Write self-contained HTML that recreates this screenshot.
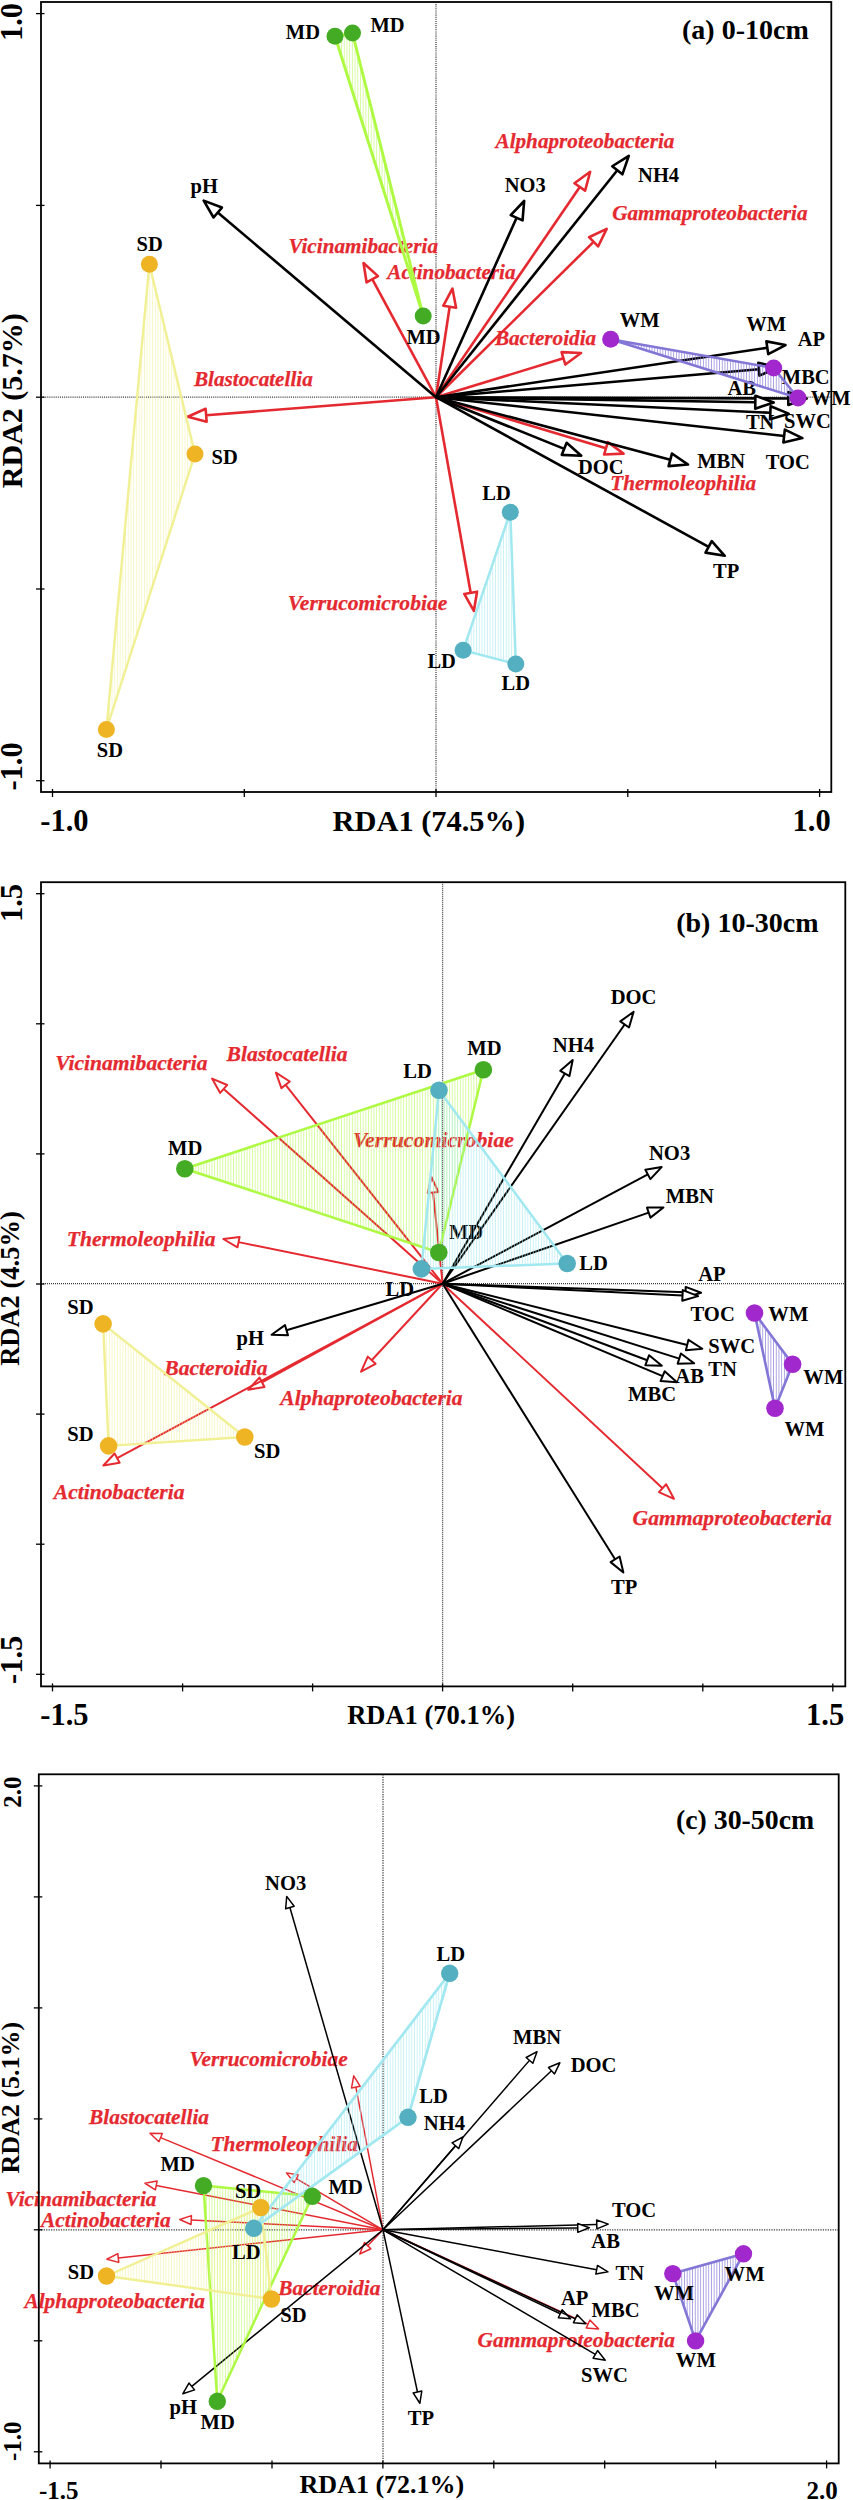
<!DOCTYPE html>
<html><head><meta charset="utf-8"><title>RDA</title>
<style>
html,body{margin:0;padding:0;background:#fff;}
svg{display:block;font-family:"Liberation Serif",serif;font-weight:bold;}
</style></head><body>
<svg width="853" height="2500" viewBox="0 0 853 2500">
<rect width="853" height="2500" fill="#fff"/>
<defs>
<pattern id="hMD" width="2.7" height="8" patternUnits="userSpaceOnUse"><line x1="1.35" y1="0" x2="1.35" y2="8" stroke="#aefa42" stroke-width="0.85" stroke-opacity="0.6"/></pattern>
<pattern id="hSD" width="2.7" height="8" patternUnits="userSpaceOnUse"><line x1="1.35" y1="0" x2="1.35" y2="8" stroke="#f1f094" stroke-width="0.85" stroke-opacity="0.6"/></pattern>
<pattern id="hLD" width="2.7" height="8" patternUnits="userSpaceOnUse"><line x1="1.35" y1="0" x2="1.35" y2="8" stroke="#a2e8f0" stroke-width="0.85" stroke-opacity="0.7"/></pattern>
<pattern id="hWM" width="2.7" height="8" patternUnits="userSpaceOnUse"><line x1="1.35" y1="0" x2="1.35" y2="8" stroke="#8276d6" stroke-width="0.85" stroke-opacity="0.8"/></pattern>
</defs>
<line x1="41" y1="397.2" x2="831.3" y2="397.2" stroke="#3c3c3c" stroke-width="1.25" stroke-dasharray="1.05 1.05"/>
<line x1="436" y1="2" x2="436" y2="792" stroke="#3c3c3c" stroke-width="1.25" stroke-dasharray="1.05 1.05"/>
<line x1="436" y1="397.2" x2="372.26" y2="279.23" stroke="#e42a30" stroke-width="2.6"/>
<polygon points="363.52,263.04 377.97,276.15 366.56,282.31" fill="#fff" stroke="#e42a30" stroke-width="2.6" stroke-linejoin="round"/>
<line x1="436" y1="397.2" x2="449.66" y2="306.78" stroke="#e42a30" stroke-width="2.6"/>
<polygon points="452.41,288.59 456.07,307.75 443.25,305.81" fill="#fff" stroke="#e42a30" stroke-width="2.6" stroke-linejoin="round"/>
<line x1="436" y1="397.2" x2="579.78" y2="186.96" stroke="#e42a30" stroke-width="2.6"/>
<polygon points="590.17,171.77 585.13,190.62 574.43,183.3" fill="#fff" stroke="#e42a30" stroke-width="2.6" stroke-linejoin="round"/>
<line x1="436" y1="397.2" x2="593.57" y2="241.83" stroke="#e42a30" stroke-width="2.6"/>
<polygon points="606.67,228.91 598.12,246.45 589.02,237.21" fill="#fff" stroke="#e42a30" stroke-width="2.6" stroke-linejoin="round"/>
<line x1="436" y1="397.2" x2="563.46" y2="358.34" stroke="#e42a30" stroke-width="2.6"/>
<polygon points="581.06,352.98 565.35,364.55 561.57,352.14" fill="#fff" stroke="#e42a30" stroke-width="2.6" stroke-linejoin="round"/>
<line x1="436" y1="397.2" x2="206.14" y2="415.26" stroke="#e42a30" stroke-width="2.6"/>
<polygon points="187.8,416.7 205.63,408.79 206.65,421.72" fill="#fff" stroke="#e42a30" stroke-width="2.6" stroke-linejoin="round"/>
<line x1="436" y1="397.2" x2="605.94" y2="448.32" stroke="#e42a30" stroke-width="2.6"/>
<polygon points="623.56,453.63 604.07,454.53 607.8,442.12" fill="#fff" stroke="#e42a30" stroke-width="2.6" stroke-linejoin="round"/>
<line x1="436" y1="397.2" x2="470.66" y2="592.8" stroke="#e42a30" stroke-width="2.6"/>
<polygon points="473.87,610.92 464.28,593.93 477.05,591.67" fill="#fff" stroke="#e42a30" stroke-width="2.6" stroke-linejoin="round"/>
<text x="288.5" y="252.8" font-size="21.2" fill="#e42a30" stroke="#e42a30" stroke-width="0.25" font-style="italic">Vicinamibacteria</text>
<text x="193.9" y="386" font-size="21.2" fill="#e42a30" stroke="#e42a30" stroke-width="0.25" font-style="italic">Blastocatellia</text>
<text x="495.5" y="147.9" font-size="21.2" fill="#e42a30" stroke="#e42a30" stroke-width="0.25" font-style="italic">Alphaproteobacteria</text>
<text x="612.2" y="219.8" font-size="21.2" fill="#e42a30" stroke="#e42a30" stroke-width="0.25" font-style="italic">Gammaproteobacteria</text>
<text x="387.3" y="279.2" font-size="21.2" fill="#e42a30" stroke="#e42a30" stroke-width="0.25" font-style="italic">Actinobacteria</text>
<text x="494.9" y="345.2" font-size="21.2" fill="#e42a30" stroke="#e42a30" stroke-width="0.25" font-style="italic">Bacteroidia</text>
<text x="610.2" y="489.9" font-size="21.2" fill="#e42a30" stroke="#e42a30" stroke-width="0.25" font-style="italic">Thermoleophilia</text>
<text x="287.8" y="609.9" font-size="21.2" fill="#e42a30" stroke="#e42a30" stroke-width="0.25" font-style="italic" textLength="159.5" lengthAdjust="spacingAndGlyphs">Verrucomicrobiae</text>
<line x1="436" y1="397.2" x2="217.74" y2="212.52" stroke="#000" stroke-width="2.6"/>
<polygon points="203.69,200.64 221.93,207.58 213.55,217.47" fill="#fff" stroke="#000" stroke-width="2.6" stroke-linejoin="round"/>
<line x1="436" y1="397.2" x2="516.63" y2="217.77" stroke="#000" stroke-width="2.6"/>
<polygon points="524.17,200.99 522.54,220.43 510.71,215.11" fill="#fff" stroke="#000" stroke-width="2.6" stroke-linejoin="round"/>
<line x1="436" y1="397.2" x2="617.3" y2="170.29" stroke="#000" stroke-width="2.6"/>
<polygon points="628.79,155.92 622.37,174.34 612.24,166.24" fill="#fff" stroke="#000" stroke-width="2.6" stroke-linejoin="round"/>
<line x1="436" y1="397.2" x2="767.32" y2="347.8" stroke="#000" stroke-width="2.6"/>
<polygon points="785.51,345.09 768.27,354.22 766.36,341.39" fill="#fff" stroke="#000" stroke-width="2.6" stroke-linejoin="round"/>
<line x1="436" y1="397.2" x2="758.87" y2="369.2" stroke="#000" stroke-width="2.6"/>
<polygon points="777.2,367.61 759.43,375.66 758.31,362.74" fill="#fff" stroke="#000" stroke-width="2.6" stroke-linejoin="round"/>
<line x1="436" y1="397.2" x2="788.3" y2="398.43" stroke="#000" stroke-width="2.6"/>
<polygon points="806.7,398.5 788.28,404.91 788.32,391.95" fill="#fff" stroke="#000" stroke-width="2.6" stroke-linejoin="round"/>
<line x1="436" y1="397.2" x2="755.3" y2="402.19" stroke="#000" stroke-width="2.6"/>
<polygon points="773.7,402.48 755.2,408.68 755.4,395.71" fill="#fff" stroke="#000" stroke-width="2.6" stroke-linejoin="round"/>
<line x1="436" y1="397.2" x2="770.32" y2="412.78" stroke="#000" stroke-width="2.6"/>
<polygon points="788.7,413.64 770.02,419.26 770.62,406.31" fill="#fff" stroke="#000" stroke-width="2.6" stroke-linejoin="round"/>
<line x1="436" y1="397.2" x2="784.12" y2="436.02" stroke="#000" stroke-width="2.6"/>
<polygon points="802.41,438.06 783.4,442.46 784.84,429.57" fill="#fff" stroke="#000" stroke-width="2.6" stroke-linejoin="round"/>
<line x1="436" y1="397.2" x2="670.27" y2="459.81" stroke="#000" stroke-width="2.6"/>
<polygon points="688.04,464.56 668.59,466.08 671.94,453.55" fill="#fff" stroke="#000" stroke-width="2.6" stroke-linejoin="round"/>
<line x1="436" y1="397.2" x2="564.23" y2="448.84" stroke="#000" stroke-width="2.6"/>
<polygon points="581.29,455.71 561.8,454.85 566.65,442.83" fill="#fff" stroke="#000" stroke-width="2.6" stroke-linejoin="round"/>
<line x1="436" y1="397.2" x2="708.63" y2="546.92" stroke="#000" stroke-width="2.6"/>
<polygon points="724.76,555.77 705.51,552.6 711.75,541.23" fill="#fff" stroke="#000" stroke-width="2.6" stroke-linejoin="round"/>
<text x="190.5" y="192.9" font-size="20.5">pH</text>
<text x="504.8" y="192.3" font-size="20.5">NO3</text>
<text x="638.1" y="181.7" font-size="20.5">NH4</text>
<text x="797.7" y="346.2" font-size="20.5">AP</text>
<text x="781.8" y="383.7" font-size="20.5">MBC</text>
<text x="727.5" y="394.5" font-size="20.5">AB</text>
<text x="745.9" y="429.2" font-size="20.5">TN</text>
<text x="784" y="427.5" font-size="20.5">SWC</text>
<text x="765.8" y="469.3" font-size="20.5">TOC</text>
<text x="697.2" y="467.6" font-size="20.5">MBN</text>
<text x="578" y="473.8" font-size="20.5">DOC</text>
<text x="713.1" y="577.7" font-size="20.5">TP</text>
<polygon points="335,36.3 352.5,33 423.2,315.9" fill="url(#hMD)" stroke="#aefa42" stroke-width="2.9" stroke-linejoin="round"/>
<text x="285.8" y="38.5" font-size="20.5">MD</text>
<text x="370.5" y="31.5" font-size="20.5">MD</text>
<text x="406.5" y="343.6" font-size="20.5">MD</text>
<polygon points="149.4,264.2 195,454 106.4,729.5" fill="url(#hSD)" stroke="#f1f094" stroke-width="2.4" stroke-linejoin="round"/>
<text x="136.6" y="250.8" font-size="20.5">SD</text>
<text x="211.5" y="464.1" font-size="20.5">SD</text>
<text x="96.8" y="757.2" font-size="20.5">SD</text>
<polygon points="510.3,512.2 463.1,650.3 515.8,664" fill="url(#hLD)" stroke="#a2e8f0" stroke-width="2.5" stroke-linejoin="round"/>
<text x="482.3" y="500.3" font-size="20.5">LD</text>
<text x="427.4" y="668" font-size="20.5">LD</text>
<text x="501.5" y="689.9" font-size="20.5">LD</text>
<polygon points="610.7,339.3 773.7,368 798,398" fill="url(#hWM)" stroke="#8276d6" stroke-width="2.5" stroke-linejoin="round"/>
<text x="619.8" y="327.1" font-size="20.5">WM</text>
<text x="746.3" y="331.2" font-size="20.5">WM</text>
<text x="810.8" y="405" font-size="20.5">WM</text>
<circle cx="335" cy="36.3" r="8.5" fill="#44ac24"/>
<circle cx="352.5" cy="33" r="8.5" fill="#44ac24"/>
<circle cx="423.2" cy="315.9" r="8.5" fill="#44ac24"/>
<circle cx="149.4" cy="264.2" r="8.5" fill="#eeb424"/>
<circle cx="195" cy="454" r="8.5" fill="#eeb424"/>
<circle cx="106.4" cy="729.5" r="8.5" fill="#eeb424"/>
<circle cx="510.3" cy="512.2" r="8.5" fill="#54b0c0"/>
<circle cx="463.1" cy="650.3" r="8.5" fill="#54b0c0"/>
<circle cx="515.8" cy="664" r="8.5" fill="#54b0c0"/>
<circle cx="610.7" cy="339.3" r="8.5" fill="#a028cc"/>
<circle cx="773.7" cy="368" r="8.5" fill="#a028cc"/>
<circle cx="798" cy="398" r="8.5" fill="#a028cc"/>
<rect x="41" y="2" width="790.3" height="790" fill="none" stroke="#000" stroke-width="1.8"/>
<line x1="52.5" y1="789" x2="52.5" y2="797" stroke="#000" stroke-width="1.3"/>
<line x1="244.3" y1="789" x2="244.3" y2="797" stroke="#000" stroke-width="1.3"/>
<line x1="436" y1="789" x2="436" y2="797" stroke="#000" stroke-width="1.3"/>
<line x1="627.8" y1="789" x2="627.8" y2="797" stroke="#000" stroke-width="1.3"/>
<line x1="819.6" y1="789" x2="819.6" y2="797" stroke="#000" stroke-width="1.3"/>
<line x1="36" y1="13.6" x2="44.5" y2="13.6" stroke="#000" stroke-width="1.3"/>
<line x1="36" y1="205.4" x2="44.5" y2="205.4" stroke="#000" stroke-width="1.3"/>
<line x1="36" y1="397.2" x2="44.5" y2="397.2" stroke="#000" stroke-width="1.3"/>
<line x1="36" y1="589" x2="44.5" y2="589" stroke="#000" stroke-width="1.3"/>
<line x1="36" y1="780.7" x2="44.5" y2="780.7" stroke="#000" stroke-width="1.3"/>
<text x="682" y="38.7" font-size="28">(a) 0-10cm</text>
<text x="332.6" y="831" font-size="30.4">RDA1 (74.5%)</text>
<text x="40.3" y="831" font-size="30.5">-1.0</text>
<text x="792.6" y="831" font-size="30.5">1.0</text>
<text x="22.5" y="488.2" font-size="30" transform="rotate(-90 22.5 488.2)">RDA2 (5.7%)</text>
<text x="22" y="41" font-size="30.5" transform="rotate(-90 22 41)">1.0</text>
<text x="22" y="790.6" font-size="30.5" transform="rotate(-90 22 790.6)">-1.0</text>
<line x1="41" y1="1283.7" x2="845.3" y2="1283.7" stroke="#3c3c3c" stroke-width="1.25" stroke-dasharray="1 1"/>
<line x1="442.6" y1="882.2" x2="442.6" y2="1686.4" stroke="#3c3c3c" stroke-width="1.25" stroke-dasharray="1 1"/>
<line x1="442.6" y1="1283.7" x2="223.7" y2="1088.93" stroke="#e42a30" stroke-width="2.0"/>
<polygon points="212.05,1078.56 227.24,1084.96 220.17,1092.91" fill="#fff" stroke="#e42a30" stroke-width="2.0" stroke-linejoin="round"/>
<line x1="442.6" y1="1283.7" x2="285.59" y2="1084.83" stroke="#e42a30" stroke-width="2.0"/>
<polygon points="275.92,1072.58 289.76,1081.53 281.41,1088.12" fill="#fff" stroke="#e42a30" stroke-width="2.0" stroke-linejoin="round"/>
<line x1="442.6" y1="1283.7" x2="433.03" y2="1192.51" stroke="#e42a30" stroke-width="2.0"/>
<polygon points="431.4,1176.99 438.32,1191.95 427.74,1193.06" fill="#fff" stroke="#e42a30" stroke-width="2.0" stroke-linejoin="round"/>
<line x1="442.6" y1="1283.7" x2="238.57" y2="1242.12" stroke="#e42a30" stroke-width="2.0"/>
<polygon points="223.28,1239 239.63,1236.9 237.5,1247.33" fill="#fff" stroke="#e42a30" stroke-width="2.0" stroke-linejoin="round"/>
<line x1="442.6" y1="1283.7" x2="261.97" y2="1382.25" stroke="#e42a30" stroke-width="2.0"/>
<polygon points="248.28,1389.72 259.43,1377.58 264.52,1386.92" fill="#fff" stroke="#e42a30" stroke-width="2.0" stroke-linejoin="round"/>
<line x1="442.6" y1="1283.7" x2="117.13" y2="1458.16" stroke="#e42a30" stroke-width="2.0"/>
<polygon points="103.38,1465.53 114.62,1453.47 119.64,1462.84" fill="#fff" stroke="#e42a30" stroke-width="2.0" stroke-linejoin="round"/>
<line x1="442.6" y1="1283.7" x2="371.68" y2="1360.22" stroke="#e42a30" stroke-width="2.0"/>
<polygon points="361.08,1371.67 367.78,1356.61 375.58,1363.84" fill="#fff" stroke="#e42a30" stroke-width="2.0" stroke-linejoin="round"/>
<line x1="442.6" y1="1283.7" x2="662.54" y2="1488.2" stroke="#e42a30" stroke-width="2.0"/>
<polygon points="673.97,1498.82 658.92,1492.09 666.16,1484.3" fill="#fff" stroke="#e42a30" stroke-width="2.0" stroke-linejoin="round"/>
<text x="55.2" y="1069.7" font-size="21.6" fill="#e42a30" stroke="#e42a30" stroke-width="0.25" font-style="italic">Vicinamibacteria</text>
<text x="226.5" y="1061.1" font-size="21.6" fill="#e42a30" stroke="#e42a30" stroke-width="0.25" font-style="italic">Blastocatellia</text>
<text x="353" y="1146.5" font-size="21.6" fill="#e42a30" stroke="#e42a30" stroke-width="0.25" font-style="italic" textLength="161" lengthAdjust="spacingAndGlyphs">Verrucomicrobiae</text>
<text x="66.8" y="1245.5" font-size="21.6" fill="#e42a30" stroke="#e42a30" stroke-width="0.25" font-style="italic">Thermoleophilia</text>
<text x="164.3" y="1375.1" font-size="21.6" fill="#e42a30" stroke="#e42a30" stroke-width="0.25" font-style="italic">Bacteroidia</text>
<text x="53.8" y="1498.6" font-size="21.6" fill="#e42a30" stroke="#e42a30" stroke-width="0.25" font-style="italic">Actinobacteria</text>
<text x="280.3" y="1405" font-size="21.6" fill="#e42a30" stroke="#e42a30" stroke-width="0.25" font-style="italic">Alphaproteobacteria</text>
<text x="632.6" y="1524.6" font-size="21.6" fill="#e42a30" stroke="#e42a30" stroke-width="0.25" font-style="italic">Gammaproteobacteria</text>
<line x1="442.6" y1="1283.7" x2="624.66" y2="1024.48" stroke="#000" stroke-width="2.0"/>
<polygon points="633.63,1011.72 629.01,1027.54 620.31,1021.43" fill="#fff" stroke="#000" stroke-width="2.0" stroke-linejoin="round"/>
<line x1="442.6" y1="1283.7" x2="564.86" y2="1073.45" stroke="#000" stroke-width="2.0"/>
<polygon points="572.7,1059.96 569.45,1076.12 560.26,1070.78" fill="#fff" stroke="#000" stroke-width="2.0" stroke-linejoin="round"/>
<line x1="442.6" y1="1283.7" x2="647.85" y2="1174.4" stroke="#000" stroke-width="2.0"/>
<polygon points="661.62,1167.07 650.35,1179.1 645.35,1169.71" fill="#fff" stroke="#000" stroke-width="2.0" stroke-linejoin="round"/>
<line x1="442.6" y1="1283.7" x2="648.71" y2="1212.61" stroke="#000" stroke-width="2.0"/>
<polygon points="663.45,1207.53 650.44,1217.64 646.97,1207.58" fill="#fff" stroke="#000" stroke-width="2.0" stroke-linejoin="round"/>
<line x1="442.6" y1="1283.7" x2="685.51" y2="1292.22" stroke="#000" stroke-width="2.0"/>
<polygon points="701.1,1292.76 685.32,1297.53 685.7,1286.9" fill="#fff" stroke="#000" stroke-width="2.0" stroke-linejoin="round"/>
<line x1="442.6" y1="1283.7" x2="682.52" y2="1295.39" stroke="#000" stroke-width="2.0"/>
<polygon points="698.1,1296.15 682.26,1300.7 682.78,1290.08" fill="#fff" stroke="#000" stroke-width="2.0" stroke-linejoin="round"/>
<line x1="442.6" y1="1283.7" x2="687.2" y2="1344.97" stroke="#000" stroke-width="2.0"/>
<polygon points="702.33,1348.76 685.91,1350.13 688.49,1339.81" fill="#fff" stroke="#000" stroke-width="2.0" stroke-linejoin="round"/>
<line x1="442.6" y1="1283.7" x2="679.27" y2="1358.59" stroke="#000" stroke-width="2.0"/>
<polygon points="694.15,1363.3 677.67,1363.66 680.88,1353.52" fill="#fff" stroke="#000" stroke-width="2.0" stroke-linejoin="round"/>
<line x1="442.6" y1="1283.7" x2="647.25" y2="1360.19" stroke="#000" stroke-width="2.0"/>
<polygon points="661.86,1365.65 645.39,1365.17 649.11,1355.21" fill="#fff" stroke="#000" stroke-width="2.0" stroke-linejoin="round"/>
<line x1="442.6" y1="1283.7" x2="662.6" y2="1376.17" stroke="#000" stroke-width="2.0"/>
<polygon points="676.98,1382.21 660.54,1381.07 664.66,1371.27" fill="#fff" stroke="#000" stroke-width="2.0" stroke-linejoin="round"/>
<line x1="442.6" y1="1283.7" x2="615.09" y2="1559.33" stroke="#000" stroke-width="2.0"/>
<polygon points="623.37,1572.55 610.59,1562.15 619.6,1556.51" fill="#fff" stroke="#000" stroke-width="2.0" stroke-linejoin="round"/>
<line x1="442.6" y1="1283.7" x2="286.51" y2="1330.26" stroke="#000" stroke-width="2.0"/>
<polygon points="271.56,1334.71 284.99,1325.16 288.03,1335.35" fill="#fff" stroke="#000" stroke-width="2.0" stroke-linejoin="round"/>
<text x="610.7" y="1003.6" font-size="20.6">DOC</text>
<text x="552.8" y="1052" font-size="20.6">NH4</text>
<text x="649" y="1159.6" font-size="20.6">NO3</text>
<text x="665.8" y="1203" font-size="20.6">MBN</text>
<text x="698.2" y="1280.9" font-size="20.6">AP</text>
<text x="690.5" y="1321.2" font-size="20.6">TOC</text>
<text x="708.2" y="1353.2" font-size="20.6">SWC</text>
<text x="708.2" y="1376.4" font-size="20.6">TN</text>
<text x="675.3" y="1382.9" font-size="20.6">AB</text>
<text x="628" y="1401.3" font-size="20.6">MBC</text>
<text x="611.1" y="1594.1" font-size="20.6">TP</text>
<text x="236.6" y="1344.5" font-size="20.6">pH</text>
<polygon points="103.1,1323.9 108.6,1445.9 244.8,1437" fill="url(#hSD)" stroke="#f1f094" stroke-width="2.4" stroke-linejoin="round"/>
<text x="67.2" y="1313.6" font-size="20.6">SD</text>
<text x="67.2" y="1440.7" font-size="20.6">SD</text>
<text x="254" y="1458" font-size="20.6">SD</text>
<polygon points="184.8,1168.7 483.4,1069.7 438.8,1252.5" fill="url(#hMD)" stroke="#aefa42" stroke-width="2.5" stroke-linejoin="round"/>
<text x="168" y="1154.7" font-size="20.6">MD</text>
<text x="467.3" y="1055" font-size="20.6">MD</text>
<text x="448.9" y="1238.5" font-size="20.6">MD</text>
<polygon points="439,1090.2 421.4,1268.9 567.2,1263.5" fill="url(#hLD)" stroke="#a2e8f0" stroke-width="2.5" stroke-linejoin="round"/>
<text x="403.2" y="1077.9" font-size="20.6">LD</text>
<text x="385.4" y="1296.2" font-size="20.6">LD</text>
<text x="579.3" y="1270.4" font-size="20.6">LD</text>
<polygon points="754.5,1313 792.6,1364.3 775,1408.2" fill="url(#hWM)" stroke="#8276d6" stroke-width="2.6" stroke-linejoin="round"/>
<text x="768.3" y="1321.2" font-size="20.6">WM</text>
<text x="803.3" y="1383.8" font-size="20.6">WM</text>
<text x="784.4" y="1435.6" font-size="20.6">WM</text>
<circle cx="103.1" cy="1323.9" r="8.8" fill="#eeb424"/>
<circle cx="108.6" cy="1445.9" r="8.8" fill="#eeb424"/>
<circle cx="244.8" cy="1437" r="8.8" fill="#eeb424"/>
<circle cx="184.8" cy="1168.7" r="8.8" fill="#44ac24"/>
<circle cx="483.4" cy="1069.7" r="8.8" fill="#44ac24"/>
<circle cx="438.8" cy="1252.5" r="8.8" fill="#44ac24"/>
<circle cx="439" cy="1090.2" r="8.8" fill="#54b0c0"/>
<circle cx="421.4" cy="1268.9" r="8.8" fill="#54b0c0"/>
<circle cx="567.2" cy="1263.5" r="8.8" fill="#54b0c0"/>
<circle cx="754.5" cy="1313" r="8.8" fill="#a028cc"/>
<circle cx="792.6" cy="1364.3" r="8.8" fill="#a028cc"/>
<circle cx="775" cy="1408.2" r="8.8" fill="#a028cc"/>
<rect x="41" y="882.2" width="804.3" height="804.2" fill="none" stroke="#000" stroke-width="1.8"/>
<line x1="52.5" y1="1683.4" x2="52.5" y2="1691.4" stroke="#000" stroke-width="1.3"/>
<line x1="182.6" y1="1683.4" x2="182.6" y2="1691.4" stroke="#000" stroke-width="1.3"/>
<line x1="312.6" y1="1683.4" x2="312.6" y2="1691.4" stroke="#000" stroke-width="1.3"/>
<line x1="442.6" y1="1683.4" x2="442.6" y2="1691.4" stroke="#000" stroke-width="1.3"/>
<line x1="572.7" y1="1683.4" x2="572.7" y2="1691.4" stroke="#000" stroke-width="1.3"/>
<line x1="702.8" y1="1683.4" x2="702.8" y2="1691.4" stroke="#000" stroke-width="1.3"/>
<line x1="832.8" y1="1683.4" x2="832.8" y2="1691.4" stroke="#000" stroke-width="1.3"/>
<line x1="36" y1="893.7" x2="44.5" y2="893.7" stroke="#000" stroke-width="1.3"/>
<line x1="36" y1="1023.8" x2="44.5" y2="1023.8" stroke="#000" stroke-width="1.3"/>
<line x1="36" y1="1153.9" x2="44.5" y2="1153.9" stroke="#000" stroke-width="1.3"/>
<line x1="36" y1="1284" x2="44.5" y2="1284" stroke="#000" stroke-width="1.3"/>
<line x1="36" y1="1414.1" x2="44.5" y2="1414.1" stroke="#000" stroke-width="1.3"/>
<line x1="36" y1="1544.2" x2="44.5" y2="1544.2" stroke="#000" stroke-width="1.3"/>
<line x1="36" y1="1674.3" x2="44.5" y2="1674.3" stroke="#000" stroke-width="1.3"/>
<text x="676.2" y="931.7" font-size="28">(b) 10-30cm</text>
<text x="347.2" y="1724" font-size="26.5">RDA1 (70.1%)</text>
<text x="40.3" y="1725.4" font-size="30.5">-1.5</text>
<text x="806" y="1725.4" font-size="30.5">1.5</text>
<text x="19" y="1365.8" font-size="26.5" transform="rotate(-90 19 1365.8)">RDA2 (4.5%)</text>
<text x="22" y="922" font-size="30.5" transform="rotate(-90 22 922)">1.5</text>
<text x="22" y="1684" font-size="30.5" transform="rotate(-90 22 1684)">-1.5</text>
<line x1="38.8" y1="2229.8" x2="838.7" y2="2229.8" stroke="#3c3c3c" stroke-width="1.25" stroke-dasharray="1.25 1.2"/>
<line x1="383" y1="1774.3" x2="383" y2="2463.4" stroke="#3c3c3c" stroke-width="1.25" stroke-dasharray="1.25 1.2"/>
<line x1="383" y1="2229.8" x2="355.89" y2="2087.13" stroke="#e42a30" stroke-width="1.5"/>
<polygon points="353.74,2075.84 360.23,2086.31 351.54,2087.96" fill="#fff" stroke="#e42a30" stroke-width="1.5" stroke-linejoin="round"/>
<line x1="383" y1="2229.8" x2="160.62" y2="2137.59" stroke="#e42a30" stroke-width="1.5"/>
<polygon points="149.99,2133.19 162.31,2133.51 158.92,2141.68" fill="#fff" stroke="#e42a30" stroke-width="1.5" stroke-linejoin="round"/>
<line x1="383" y1="2229.8" x2="296.35" y2="2178.72" stroke="#e42a30" stroke-width="1.5"/>
<polygon points="286.45,2172.88 298.6,2174.91 294.11,2182.53" fill="#fff" stroke="#e42a30" stroke-width="1.5" stroke-linejoin="round"/>
<line x1="383" y1="2229.8" x2="156.22" y2="2185.45" stroke="#e42a30" stroke-width="1.5"/>
<polygon points="144.94,2183.24 157.07,2181.11 155.37,2189.79" fill="#fff" stroke="#e42a30" stroke-width="1.5" stroke-linejoin="round"/>
<line x1="383" y1="2229.8" x2="191.23" y2="2220.02" stroke="#e42a30" stroke-width="1.5"/>
<polygon points="179.75,2219.44 191.46,2215.61 191.01,2224.44" fill="#fff" stroke="#e42a30" stroke-width="1.5" stroke-linejoin="round"/>
<line x1="383" y1="2229.8" x2="118.28" y2="2258" stroke="#e42a30" stroke-width="1.5"/>
<polygon points="106.85,2259.22 117.81,2253.6 118.75,2262.4" fill="#fff" stroke="#e42a30" stroke-width="1.5" stroke-linejoin="round"/>
<line x1="383" y1="2229.8" x2="367.7" y2="2245.68" stroke="#e42a30" stroke-width="1.5"/>
<polygon points="359.72,2253.96 364.51,2242.61 370.88,2248.75" fill="#fff" stroke="#e42a30" stroke-width="1.5" stroke-linejoin="round"/>
<line x1="383" y1="2229.8" x2="588.07" y2="2324.08" stroke="#e42a30" stroke-width="1.5"/>
<polygon points="598.52,2328.89 586.22,2328.1 589.92,2320.06" fill="#fff" stroke="#e42a30" stroke-width="1.5" stroke-linejoin="round"/>
<text x="189.6" y="2065.8" font-size="21.4" fill="#e42a30" stroke="#e42a30" stroke-width="0.25" font-style="italic">Verrucomicrobiae</text>
<text x="89" y="2123.7" font-size="21.4" fill="#e42a30" stroke="#e42a30" stroke-width="0.25" font-style="italic">Blastocatellia</text>
<text x="210.5" y="2150.5" font-size="21.4" fill="#e42a30" stroke="#e42a30" stroke-width="0.25" font-style="italic">Thermoleophilia</text>
<text x="5.6" y="2205.5" font-size="21.4" fill="#e42a30" stroke="#e42a30" stroke-width="0.25" font-style="italic">Vicinamibacteria</text>
<text x="41.1" y="2226.7" font-size="21.4" fill="#e42a30" stroke="#e42a30" stroke-width="0.25" font-style="italic">Actinobacteria</text>
<text x="24.4" y="2308.1" font-size="21.4" fill="#e42a30" stroke="#e42a30" stroke-width="0.25" font-style="italic">Alphaproteobacteria</text>
<text x="278.2" y="2294.8" font-size="21.4" fill="#e42a30" stroke="#e42a30" stroke-width="0.25" font-style="italic">Bacteroidia</text>
<text x="477.6" y="2346.9" font-size="21.4" fill="#e42a30" stroke="#e42a30" stroke-width="0.25" font-style="italic">Gammaproteobacteria</text>
<line x1="383" y1="2229.8" x2="289.9" y2="1907.47" stroke="#000" stroke-width="1.5"/>
<polygon points="286.71,1896.42 294.15,1906.24 285.65,1908.7" fill="#fff" stroke="#000" stroke-width="1.5" stroke-linejoin="round"/>
<line x1="383" y1="2229.8" x2="529.49" y2="2060.37" stroke="#000" stroke-width="1.5"/>
<polygon points="537.01,2051.67 532.83,2063.26 526.14,2057.47" fill="#fff" stroke="#000" stroke-width="1.5" stroke-linejoin="round"/>
<line x1="383" y1="2229.8" x2="551.49" y2="2070.71" stroke="#000" stroke-width="1.5"/>
<polygon points="559.85,2062.81 554.53,2073.93 548.46,2067.49" fill="#fff" stroke="#000" stroke-width="1.5" stroke-linejoin="round"/>
<line x1="383" y1="2229.8" x2="455.41" y2="2145.68" stroke="#000" stroke-width="1.5"/>
<polygon points="462.91,2136.97 458.76,2148.57 452.06,2142.8" fill="#fff" stroke="#000" stroke-width="1.5" stroke-linejoin="round"/>
<line x1="383" y1="2229.8" x2="596.75" y2="2224.41" stroke="#000" stroke-width="1.5"/>
<polygon points="608.25,2224.12 596.87,2228.83 596.64,2219.99" fill="#fff" stroke="#000" stroke-width="1.5" stroke-linejoin="round"/>
<line x1="383" y1="2229.8" x2="577.75" y2="2227.92" stroke="#000" stroke-width="1.5"/>
<polygon points="589.25,2227.81 577.79,2232.34 577.71,2223.5" fill="#fff" stroke="#000" stroke-width="1.5" stroke-linejoin="round"/>
<line x1="383" y1="2229.8" x2="596.66" y2="2269.75" stroke="#000" stroke-width="1.5"/>
<polygon points="607.96,2271.86 595.85,2274.1 597.47,2265.4" fill="#fff" stroke="#000" stroke-width="1.5" stroke-linejoin="round"/>
<line x1="383" y1="2229.8" x2="560.23" y2="2313.76" stroke="#000" stroke-width="1.5"/>
<polygon points="570.62,2318.68 558.34,2317.75 562.12,2309.76" fill="#fff" stroke="#000" stroke-width="1.5" stroke-linejoin="round"/>
<line x1="383" y1="2229.8" x2="575.28" y2="2318.85" stroke="#000" stroke-width="1.5"/>
<polygon points="585.72,2323.68 573.43,2322.87 577.14,2314.84" fill="#fff" stroke="#000" stroke-width="1.5" stroke-linejoin="round"/>
<line x1="383" y1="2229.8" x2="595.33" y2="2354.4" stroke="#000" stroke-width="1.5"/>
<polygon points="605.25,2360.22 593.1,2358.21 597.57,2350.59" fill="#fff" stroke="#000" stroke-width="1.5" stroke-linejoin="round"/>
<line x1="383" y1="2229.8" x2="417.45" y2="2392.02" stroke="#000" stroke-width="1.5"/>
<polygon points="419.84,2403.27 413.13,2392.94 421.78,2391.1" fill="#fff" stroke="#000" stroke-width="1.5" stroke-linejoin="round"/>
<line x1="383" y1="2229.8" x2="191.78" y2="2386.44" stroke="#000" stroke-width="1.5"/>
<polygon points="182.88,2393.72 188.97,2383.02 194.58,2389.86" fill="#fff" stroke="#000" stroke-width="1.5" stroke-linejoin="round"/>
<text x="265.1" y="1889.6" font-size="20.6">NO3</text>
<text x="513.1" y="2044.4" font-size="20.6">MBN</text>
<text x="570.7" y="2071.8" font-size="20.6">DOC</text>
<text x="423.8" y="2130.3" font-size="20.6">NH4</text>
<text x="611.9" y="2216.5" font-size="20.6">TOC</text>
<text x="591.3" y="2247.9" font-size="20.6">AB</text>
<text x="615.6" y="2279.8" font-size="20.6">TN</text>
<text x="560.9" y="2304.5" font-size="20.6">AP</text>
<text x="591.5" y="2317.4" font-size="20.6">MBC</text>
<text x="581" y="2382.1" font-size="20.6">SWC</text>
<text x="407.7" y="2424.9" font-size="20.6">TP</text>
<text x="169.5" y="2414" font-size="20.6">pH</text>
<polygon points="203.5,2185.6 312.3,2196.3 217.3,2401.3" fill="url(#hMD)" stroke="#aefa42" stroke-width="2.5" stroke-linejoin="round"/>
<text x="160.6" y="2171" font-size="20.6">MD</text>
<text x="328.5" y="2193.8" font-size="20.6">MD</text>
<text x="200.6" y="2429.3" font-size="20.6">MD</text>
<polygon points="106.5,2276 260.8,2207.5 271.5,2299" fill="url(#hSD)" stroke="#f1f094" stroke-width="2.4" stroke-linejoin="round"/>
<text x="67.7" y="2278.5" font-size="20.6">SD</text>
<text x="234.9" y="2197.5" font-size="20.6">SD</text>
<text x="280.3" y="2322.4" font-size="20.6">SD</text>
<polygon points="449.7,1973.3 408,2117.3 253.8,2228.3" fill="url(#hLD)" stroke="#a2e8f0" stroke-width="2.7" stroke-linejoin="round"/>
<text x="436.6" y="1960.5" font-size="20.6">LD</text>
<text x="419.2" y="2102.9" font-size="20.6">LD</text>
<text x="231.9" y="2258.7" font-size="20.6">LD</text>
<polygon points="672.8,2273.6 743.5,2253.8 695.6,2340.9" fill="url(#hWM)" stroke="#8276d6" stroke-width="2.6" stroke-linejoin="round"/>
<text x="653.9" y="2300.4" font-size="20.6">WM</text>
<text x="724.6" y="2280.6" font-size="20.6">WM</text>
<text x="675.8" y="2367.4" font-size="20.6">WM</text>
<circle cx="203.5" cy="2185.6" r="8.7" fill="#44ac24"/>
<circle cx="312.3" cy="2196.3" r="8.7" fill="#44ac24"/>
<circle cx="217.3" cy="2401.3" r="8.7" fill="#44ac24"/>
<circle cx="106.5" cy="2276" r="8.7" fill="#eeb424"/>
<circle cx="260.8" cy="2207.5" r="8.7" fill="#eeb424"/>
<circle cx="271.5" cy="2299" r="8.7" fill="#eeb424"/>
<circle cx="449.7" cy="1973.3" r="8.7" fill="#54b0c0"/>
<circle cx="408" cy="2117.3" r="8.7" fill="#54b0c0"/>
<circle cx="253.8" cy="2228.3" r="8.7" fill="#54b0c0"/>
<circle cx="672.8" cy="2273.6" r="8.7" fill="#a028cc"/>
<circle cx="743.5" cy="2253.8" r="8.7" fill="#a028cc"/>
<circle cx="695.6" cy="2340.9" r="8.7" fill="#a028cc"/>
<rect x="38.8" y="1774.3" width="799.9" height="689.1" fill="none" stroke="#000" stroke-width="1.8"/>
<line x1="50.1" y1="2460.4" x2="50.1" y2="2468.4" stroke="#000" stroke-width="1.3"/>
<line x1="161" y1="2460.4" x2="161" y2="2468.4" stroke="#000" stroke-width="1.3"/>
<line x1="272" y1="2460.4" x2="272" y2="2468.4" stroke="#000" stroke-width="1.3"/>
<line x1="382.9" y1="2460.4" x2="382.9" y2="2468.4" stroke="#000" stroke-width="1.3"/>
<line x1="493.8" y1="2460.4" x2="493.8" y2="2468.4" stroke="#000" stroke-width="1.3"/>
<line x1="604.7" y1="2460.4" x2="604.7" y2="2468.4" stroke="#000" stroke-width="1.3"/>
<line x1="715.7" y1="2460.4" x2="715.7" y2="2468.4" stroke="#000" stroke-width="1.3"/>
<line x1="826.6" y1="2460.4" x2="826.6" y2="2468.4" stroke="#000" stroke-width="1.3"/>
<line x1="33.8" y1="1785.9" x2="42.3" y2="1785.9" stroke="#000" stroke-width="1.3"/>
<line x1="33.8" y1="1896.9" x2="42.3" y2="1896.9" stroke="#000" stroke-width="1.3"/>
<line x1="33.8" y1="2007.9" x2="42.3" y2="2007.9" stroke="#000" stroke-width="1.3"/>
<line x1="33.8" y1="2118.9" x2="42.3" y2="2118.9" stroke="#000" stroke-width="1.3"/>
<line x1="33.8" y1="2229.8" x2="42.3" y2="2229.8" stroke="#000" stroke-width="1.3"/>
<line x1="33.8" y1="2340.8" x2="42.3" y2="2340.8" stroke="#000" stroke-width="1.3"/>
<line x1="33.8" y1="2451.8" x2="42.3" y2="2451.8" stroke="#000" stroke-width="1.3"/>
<text x="676" y="1829.4" font-size="27.8">(c) 30-50cm</text>
<text x="299.6" y="2492.5" font-size="26">RDA1 (72.1%)</text>
<text x="39" y="2498.5" font-size="25">-1.5</text>
<text x="806.5" y="2498.5" font-size="25">2.0</text>
<text x="18.5" y="2173.5" font-size="26" transform="rotate(-90 18.5 2173.5)">RDA2 (5.1%)</text>
<text x="21" y="1807.8" font-size="25" transform="rotate(-90 21 1807.8)">2.0</text>
<text x="21" y="2461" font-size="25" transform="rotate(-90 21 2461)">-1.0</text>
</svg>
</body></html>
